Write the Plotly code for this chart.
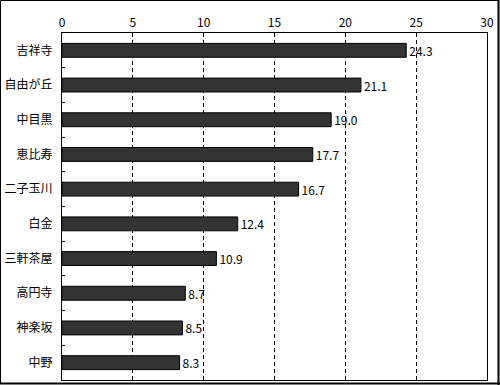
import plotly.graph_objects as go

categories = ["吉祥寺", "自由が丘", "中目黒", "恵比寿", "二子玉川", "白金", "三軒茶屋", "高円寺", "神楽坂", "中野"]
values = [24.3, 21.1, 19.0, 17.7, 16.7, 12.4, 10.9, 8.7, 8.5, 8.3]
value_labels = [f"{v:.1f}" for v in values]
x_ticks = [0, 5, 10, 15, 20, 25, 30]

FONT = "Noto Sans CJK JP"

fig = go.Figure(go.Bar(
    x=values, y=categories, orientation="h",
    marker=dict(color="#333333", line=dict(color="#000000", width=1)),
    width=0.4,
    text=value_labels, textposition="outside", cliponaxis=False,
    constraintext="none",
    textfont=dict(family=FONT, size=12, color="#000000"),
))

L, R, T, B = 62, 487, 33, 380
W, H = 500, 385

fig.update_layout(
    width=W, height=H,
    margin=dict(l=L, r=W - R, t=T, b=H - B, pad=0, autoexpand=False),
    paper_bgcolor="white", plot_bgcolor="white",
    showlegend=False,
    font=dict(family=FONT, size=12, color="#000000"),
    xaxis=dict(
        side="top", range=[0, 30], tickvals=x_ticks, ticktext=[str(t) for t in x_ticks],
        showgrid=True, gridcolor="#000000", griddash="4px,3px", gridwidth=1,
        showline=True, linecolor="#000000", linewidth=1, mirror=True,
        ticks="", zeroline=False, fixedrange=True,
        tickfont=dict(family=FONT, size=12),
    ),
    yaxis=dict(
        autorange="reversed", type="category",
        showline=True, linecolor="#000000", linewidth=1, mirror=True,
        ticks="inside", tickson="boundaries", ticklen=3, tickcolor="#000000",
        showgrid=False, ticklabelstandoff=6,
        tickfont=dict(family=FONT, size=12),
    ),
    bargap=0.6,
)

def px_x(p):
    return (p - L) / (R - L)

def px_y(p):
    return (B - p) / (B - T)

# outer frame
fig.add_shape(type="line", xref="paper", yref="paper", x0=px_x(0.5), x1=px_x(499), y0=px_y(0.5), y1=px_y(0.5), line=dict(color="black", width=1))
fig.add_shape(type="line", xref="paper", yref="paper", x0=px_x(0.5), x1=px_x(0.5), y0=px_y(0.5), y1=px_y(384), line=dict(color="black", width=1))
fig.add_shape(type="line", xref="paper", yref="paper", x0=px_x(498.5), x1=px_x(498.5), y0=px_y(0), y1=px_y(385), line=dict(color="black", width=2))
fig.add_shape(type="line", xref="paper", yref="paper", x0=px_x(0), x1=px_x(500), y0=px_y(383.5), y1=px_y(383.5), line=dict(color="black", width=2))

fig.write_html("out.html", config={"displayModeBar": False},
               post_script="document.body.style.margin='0';document.body.style.overflow='hidden';")
